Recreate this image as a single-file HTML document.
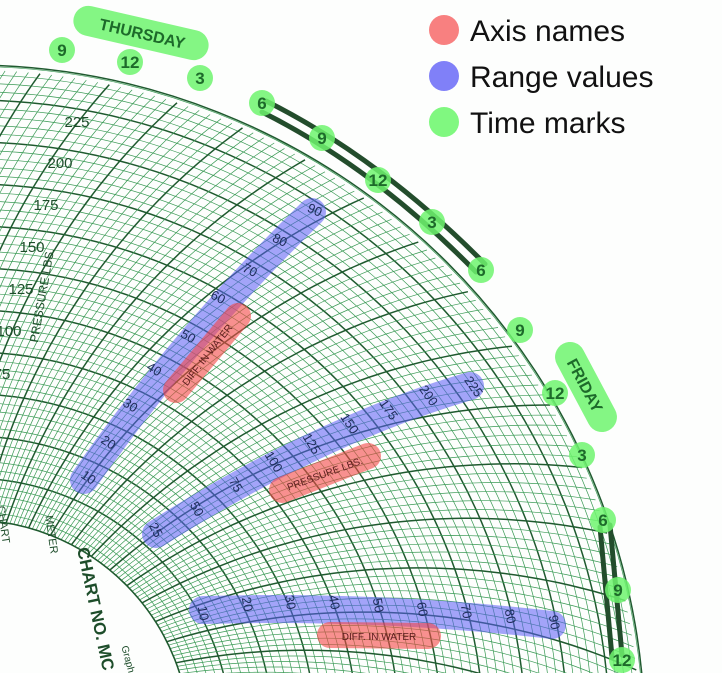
<!DOCTYPE html>
<html><head><meta charset="utf-8"><style>
html,body{margin:0;padding:0;background:#fff;width:722px;height:673px;overflow:hidden;}
svg{display:block;font-family:"Liberation Sans",sans-serif;}
</style></head><body>
<svg id="s" width="722" height="673" viewBox="0 0 722 673" xmlns="http://www.w3.org/2000/svg">
<rect width="722" height="673" fill="#fdfefd"/>
<g id="grid"></g>
<g fill="#1d4d2a" font-size="15" text-anchor="middle">
<text x="77" y="127">225</text><text x="60" y="168">200</text><text x="46" y="210">175</text>
<text x="32" y="252">150</text><text x="21" y="294">125</text><text x="9" y="336">100</text><text x="2" y="379">75</text>
<text transform="translate(46,296) rotate(-80)" font-size="12">PRESSURE LBS.</text>
<text transform="translate(90,610) rotate(78)" font-size="17" font-weight="bold">CHART NO. MC</text>
<text transform="translate(48,535) rotate(82)" font-size="11">METER</text>
<text transform="translate(0,525) rotate(82)" font-size="11">CHART</text>
<text transform="translate(125,660) rotate(75)" font-size="10">Graph</text>
</g>
<g stroke="rgba(90,90,245,0.55)" stroke-width="28" stroke-linecap="round" fill="none">
<path d="M84,480 Q190,330 312,212"/>
<path d="M156,534 Q320,430 470,386"/>
<path d="M203,610 Q380,605 552,625"/>
</g>
<g stroke="rgba(245,70,70,0.6)" stroke-width="26" stroke-linecap="round" fill="none">
<path d="M176,390 L238,316"/>
<path d="M282,490 L368,456"/>
<path d="M330,635 L428,636"/>
</g>
<g fill="#1d2d5a" font-size="13" text-anchor="middle">
<text transform="translate(86,481) rotate(35)">10</text>
<text transform="translate(106,446) rotate(34)">20</text>
<text transform="translate(128,409) rotate(32)">30</text>
<text transform="translate(152,373) rotate(31)">40</text>
<text transform="translate(186,340) rotate(30)">50</text>
<text transform="translate(216,301) rotate(28)">60</text>
<text transform="translate(248,274) rotate(27)">70</text>
<text transform="translate(278,244) rotate(25)">80</text>
<text transform="translate(313,214) rotate(24)">90</text>
<text transform="translate(152,532) rotate(62)">25</text>
<text transform="translate(193,511) rotate(62)">50</text>
<text transform="translate(232,487) rotate(60)">75</text>
<text transform="translate(270,464) rotate(58)">100</text>
<text transform="translate(308,446) rotate(58)">125</text>
<text transform="translate(346,426) rotate(56)">150</text>
<text transform="translate(385,412) rotate(55)">175</text>
<text transform="translate(425,398) rotate(55)">200</text>
<text transform="translate(470,389) rotate(55)">225</text>
<text transform="translate(199,614) rotate(80)">10</text>
<text transform="translate(243,605) rotate(80)">20</text>
<text transform="translate(286,603) rotate(80)">30</text>
<text transform="translate(330,603) rotate(80)">40</text>
<text transform="translate(374,606) rotate(80)">50</text>
<text transform="translate(418,610) rotate(80)">60</text>
<text transform="translate(462,612) rotate(80)">70</text>
<text transform="translate(506,617) rotate(80)">80</text>
<text transform="translate(550,623) rotate(80)">90</text>
</g>
<g fill="#5a1d1d" font-size="10" text-anchor="middle">
<text transform="translate(210,357) rotate(-52)">DIFF. IN WATER</text>
<text transform="translate(326,477) rotate(-20)">PRESSURE LBS.</text>
<text x="379" y="640">DIFF. IN WATER</text>
</g>
<g stroke="#234d2c" stroke-width="5" fill="none" stroke-linecap="round">
<path d="M266,101 Q380,158 485,264"/>
<path d="M262,112 Q374,168 476,272"/>
<path d="M610,525 L622,655"/>
<path d="M600,527 L612,657"/>
</g>
<g fill="rgba(110,245,110,0.85)">
<rect x="72" y="18" width="138" height="30" rx="15" transform="rotate(13 141 33)"/>
<rect x="537" y="372" width="98" height="30" rx="15" transform="rotate(62 586 387)"/>
<circle cx="62" cy="50" r="13"/><circle cx="130" cy="62" r="13"/><circle cx="200" cy="78" r="13"/>
<circle cx="262" cy="103" r="13"/><circle cx="322" cy="138" r="13"/><circle cx="378" cy="180" r="13"/>
<circle cx="432" cy="222" r="13"/><circle cx="481" cy="270" r="13"/><circle cx="520" cy="330" r="13"/>
<circle cx="555" cy="393" r="13"/><circle cx="582" cy="455" r="13"/><circle cx="603" cy="520" r="13"/>
<circle cx="618" cy="590" r="13"/><circle cx="622" cy="660" r="13"/>
</g>
<g fill="#1d6a2a" font-size="17" font-weight="bold" text-anchor="middle">
<text transform="translate(141,39) rotate(13)" font-size="16">THURSDAY</text>
<text transform="translate(580,388) rotate(62)" font-size="16">FRIDAY</text>
<text x="62" y="56">9</text><text x="130" y="68">12</text><text x="200" y="84">3</text>
<text x="262" y="109">6</text><text x="322" y="144">9</text><text x="378" y="186">12</text>
<text x="432" y="228">3</text><text x="481" y="276">6</text><text x="520" y="336">9</text>
<text x="555" y="399">12</text><text x="582" y="461">3</text><text x="603" y="526">6</text>
<text x="618" y="596">9</text><text x="622" y="666">12</text>
</g>
<circle cx="444" cy="30" r="15" fill="#f88080"/>
<circle cx="444" cy="76" r="15" fill="#8080f8"/>
<circle cx="444" cy="122" r="15" fill="#80f880"/>
<g font-size="30" fill="#111"><text x="470" y="41">Axis names</text><text x="470" y="87">Range values</text><text x="470" y="133">Time marks</text></g>
</svg>
<script>
(function(){
var g=document.getElementById('grid');
var cx=-30,cy=740,R0=220,R1=675,Rc=670;var out='';
for(var i=0;;i++){var r=R0+i*8.4;if(r>R1)break;var thick=(i%5==0);
out+='<circle cx="'+cx+'" cy="'+cy+'" r="'+r+'" fill="none" stroke="'+(thick?'#1f5a2f':'#3a9a55')+'" stroke-width="'+(thick?1.5:0.7)+'"/>';}
for(var k=0;k<=115;k++){var phi=(-132+k)*Math.PI/180;var thick=(k%6==0);var pts=[];
for(var r=R0;r<=R1;r+=10){var a=phi+Math.asin(Math.min(1,r/(2*Rc)));pts.push((cx+r*Math.cos(a)).toFixed(1)+','+(cy+r*Math.sin(a)).toFixed(1));}
out+='<polyline points="'+pts.join(' ')+'" fill="none" stroke="'+(thick?'#1f5a2f':'#3a9a55')+'" stroke-width="'+(thick?1.5:0.7)+'"/>';}
out+='<circle cx="'+cx+'" cy="'+cy+'" r="'+R1+'" fill="none" stroke="#1f5a2f" stroke-width="1.5"/>';
out+='<circle cx="'+cx+'" cy="'+cy+'" r="'+R0+'" fill="#fdfefd" stroke="#1f5a2f" stroke-width="1.5"/>';
g.innerHTML=out;})();
</script>
</body></html>
